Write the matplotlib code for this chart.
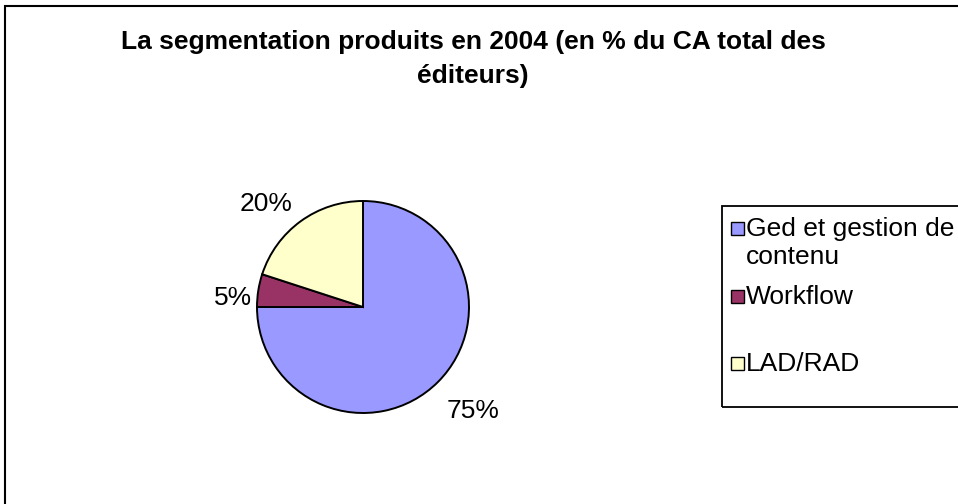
import matplotlib
matplotlib.use("Agg")
import matplotlib.pyplot as plt
from matplotlib.patches import Rectangle
from matplotlib.transforms import ScaledTranslation

plt.rcParams['font.family'] = ['Liberation Sans', 'DejaVu Sans']

# data
categories = ["Ged et gestion de\ncontenu", "Workflow", "LAD/RAD"]
shares = [75, 5, 20]
colors = ["#9999FF", "#993366", "#FFFFCC"]
title = "La segmentation produits en 2004 (en % du CA total des\néditeurs)"

W, H = 958, 504
fig = plt.figure(figsize=(W / 100, H / 100), dpi=100)


def fx(x):
    return x / W


def fy(y):
    # y measured from top in pixels
    return 1 - y / H


# outer chart border (runs off the right and bottom edges)
fig.patches.append(Rectangle((fx(5), fy(520)), fx(980), fy(6) - fy(520),
                             transform=fig.transFigure, fill=False,
                             edgecolor="black", lw=1.5, clip_on=False))

# pie
cx, cy, r = 363, 307, 106
ax = fig.add_axes([fx(cx - r), fy(cy + r), fx(2 * r), (2 * r) / H])
wedges, texts = ax.pie(shares, colors=colors, startangle=90, counterclock=False,
                       labels=[f"{v}%" for v in shares], labeldistance=1.17,
                       wedgeprops=dict(edgecolor="black", linewidth=1.4),
                       textprops=dict(fontsize=19))
ax.set_xlim(-1, 1)
ax.set_ylim(-1, 1)
ax.set_aspect("equal")

# nudge labels (pixels) to where Excel put them
nudges = [(-4, -16), (12, -10), (2, 3)]
for t, (dx, dy) in zip(texts, nudges):
    t.set_transform(t.get_transform() + ScaledTranslation(dx / 100, dy / 100, fig.dpi_scale_trans))

# title
fig.text(fx(473), fy(59), title, ha="center", va="center", fontsize=19,
         fontweight="bold", linespacing=1.55)

# legend drawn by hand to keep the Excel spacing
fig.patches.append(Rectangle((fx(722), fy(407)), fx(300), fy(206) - fy(407),
                             transform=fig.transFigure, fill=False,
                             edgecolor="black", lw=1.3, clip_on=False))
leg_y = [229, 297, 364]
for lab, col, y in zip(categories, colors, leg_y):
    fig.patches.append(Rectangle((fx(731), fy(y + 6)), fx(13), 13 / H,
                                 transform=fig.transFigure, facecolor=col,
                                 edgecolor="black", lw=1.0))
    for i, line in enumerate(lab.split("\n")):
        fig.text(fx(746), fy(y + i * 28), line, ha="left", va="center",
                 fontsize=19)

fig.savefig("out.png", dpi=100, facecolor="white")
